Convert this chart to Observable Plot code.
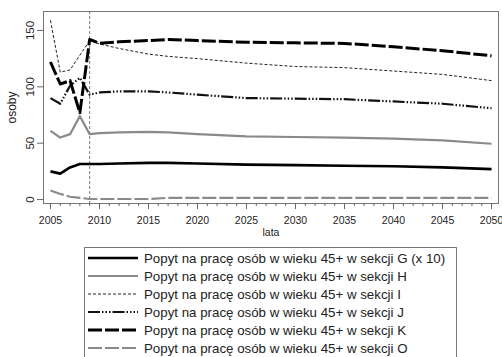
<!DOCTYPE html>
<html>
<head>
<meta charset="utf-8">
<script src="https://cdn.jsdelivr.net/npm/d3@7"></script>
<script src="https://cdn.jsdelivr.net/npm/@observablehq/plot@0.6"></script>
<style>
  html, body { margin: 0; padding: 0; background: #fff; overflow: hidden; }
  body { width: 502px; height: 357px; position: relative; font-family: "Liberation Sans", Arial, sans-serif; }
  #chart { position: absolute; left: 0; top: 0; }
  #legend { position: absolute; left: 84px; top: 247px; width: 373px; height: 120px; border: 1px solid #777; box-sizing: border-box; background: #fff; }
  .row { position: absolute; left: 2px; height: 18px; display: flex; align-items: center; }
  .row span { font-size: 13.3px; color: #222; margin-left: 5px; white-space: nowrap; }
</style>
</head>
<body>
<div id="chart"></div>
<div id="legend"></div>
<script>
const years = [2005, 2006, 2007, 2008, 2009, 2010, 2012, 2015, 2017, 2020, 2025, 2030, 2035, 2040, 2045, 2050];
const seriesG = [25, 23, 28.5, 31.5, 31.5, 31.5, 32, 32.5, 32.5, 32, 31, 30.5, 30, 29.5, 28.5, 27];
const seriesH = [61, 55, 58, 74, 58, 59, 59.5, 60, 59.5, 58, 56, 55.5, 55, 54, 52.5, 49.5];
const seriesI = [159, 113, 115, 128, 141, 138, 134, 129, 127, 125, 121, 118, 117, 114, 111, 105.5];
const seriesJ = [90, 85, 101, 108, 93, 95, 96, 96, 95, 93, 90, 89.5, 89, 87, 85, 81];
const seriesK = [122, 102.5, 105.5, 77, 142, 138.5, 140, 141, 142, 141, 139.5, 139, 138.5, 135.5, 132, 127.5];
const seriesO = [8, 5, 2.5, 1.5, 0.5, 0.5, 0.5, 0.5, 1.5, 1.5, 1.5, 1.5, 1.5, 1.5, 1.5, 1.5];
const names = [
  "Popyt na pracę osób w wieku 45+ w sekcji G (x 10)",
  "Popyt na pracę osób w wieku 45+ w sekcji H",
  "Popyt na pracę osób w wieku 45+ w sekcji I",
  "Popyt na pracę osób w wieku 45+ w sekcji J",
  "Popyt na pracę osób w wieku 45+ w sekcji K",
  "Popyt na pracę osób w wieku 45+ w sekcji O"
];
const xMajorTicks = [2005, 2010, 2015, 2020, 2025, 2030, 2035, 2040, 2045, 2050];
const yTicks = [0, 50, 100, 150];
const markerYear = 2009;

const allSeries = [seriesG, seriesH, seriesI, seriesJ, seriesK, seriesO];
const styles = [
  {stroke: "#000", strokeWidth: 2.6, dash: null},
  {stroke: "#8a8a8a", strokeWidth: 2.2, dash: null},
  {stroke: "#222", strokeWidth: 1, dash: "3,2"},
  {stroke: "#111", strokeWidth: 2.2, dash: "12,2,1.5,2,1.5,2,1.5,2"},
  {stroke: "#000", strokeWidth: 3, dash: "14,3"},
  {stroke: "#8a8a8a", strokeWidth: 2.2, dash: "14,3"}
];
const minorTicks = d3.range(2005, 2051);

const marks = [
  Plot.frame({stroke: "#777"}),
  Plot.ruleX([markerYear], {stroke: "#555", strokeWidth: 0.8, strokeDasharray: "3,2"}),
];
allSeries.forEach((s, i) => {
  const data = years.map((y, j) => ({year: y, value: s[j]}));
  const st = styles[i];
  marks.push(Plot.line(data, {x: "year", y: "value", stroke: st.stroke, strokeWidth: st.strokeWidth, strokeDasharray: st.dash, strokeLinejoin: "round", strokeLinecap: "butt"}));
});
marks.push(
  Plot.axisX({ticks: minorTicks, tickSize: 3, text: null, stroke: "#666", label: null}),
  Plot.axisX({ticks: xMajorTicks, tickSize: 6, tickFormat: d => String(d), stroke: "#666", fill: "#222", fontSize: 10.5, tickPadding: 7,
    label: "lata", labelAnchor: "center", labelArrow: "none", labelOffset: 32}),
  Plot.axisY({ticks: yTicks, tickSize: 6, text: null, stroke: "#666", label: null}),
  Plot.text(yTicks, {y: d => d, frameAnchor: "left", dx: -13, rotate: -90, text: d => String(d), fontSize: 11.5, fill: "#222", textAnchor: "middle"}),
  Plot.text(["osoby"], {frameAnchor: "left", dx: -31, rotate: -90, text: d => d, fontSize: 12, fill: "#222", textAnchor: "middle"})
);

const chart = Plot.plot({
  width: 502,
  height: 240,
  marginLeft: 43,
  marginRight: 4,
  marginTop: 11,
  marginBottom: 37,
  style: {fontFamily: "Liberation Sans, Arial, sans-serif", fontSize: "12px", background: "transparent", overflow: "visible"},
  x: {domain: [2004.29, 2050.71]},
  y: {domain: [-3.5, 166.8]},
  marks
});
document.getElementById("chart").appendChild(chart);

const legend = document.getElementById("legend");
names.forEach((name, i) => {
  const st = styles[i];
  const row = document.createElement("div");
  row.className = "row";
  row.style.top = (1 + i * 18) + "px";
  const ns = "http://www.w3.org/2000/svg";
  const svg = document.createElementNS(ns, "svg");
  svg.setAttribute("width", "52");
  svg.setAttribute("height", "18");
  const line = document.createElementNS(ns, "line");
  line.setAttribute("x1", "1"); line.setAttribute("x2", "51");
  line.setAttribute("y1", "9"); line.setAttribute("y2", "9");
  line.setAttribute("stroke", st.stroke);
  line.setAttribute("stroke-width", st.strokeWidth);
  if (st.dash) line.setAttribute("stroke-dasharray", st.dash);
  svg.appendChild(line);
  row.appendChild(svg);
  const label = document.createElement("span");
  label.textContent = name;
  row.appendChild(label);
  legend.appendChild(row);
});
</script>
</body>
</html>
